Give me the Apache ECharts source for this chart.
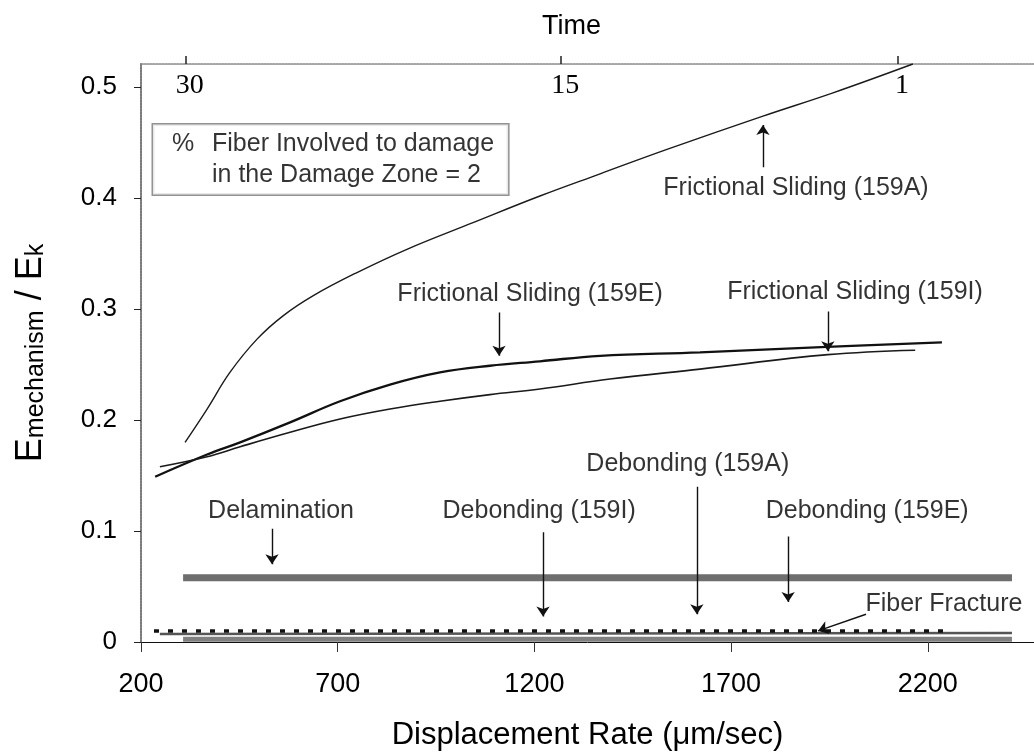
<!DOCTYPE html>
<html><head><meta charset="utf-8">
<script src="https://cdn.jsdelivr.net/npm/echarts@6/dist/echarts.min.js"></script>
<style>html,body{margin:0;padding:0;background:#fff}#c{width:1034px;height:756px}</style>
</head><body><div id="c"></div>
<script>
// ---- axis ticks ----
const xTicks = [200, 700, 1200, 1700, 2200];
const yTicks = [0, 0.1, 0.2, 0.3, 0.4, 0.5];
const timeTickRates = [314, 1268, 2124];
const timeTickLabels = ['30', '15', '1'];

// ---- frictional sliding curves ----
const rate159A = [312, 368, 426, 495, 561, 637, 749, 876, 1044, 1214, 1367, 1537, 1781, 1959, 2162];
const fs159A   = [0.180, 0.210, 0.243, 0.273, 0.294, 0.312, 0.333, 0.354, 0.378, 0.402, 0.422, 0.444, 0.474, 0.495, 0.521];
const rate159E = [236, 368, 452, 579, 706, 833, 960, 1087, 1214, 1367, 1621, 1944, 2236];
const fs159E   = [0.149, 0.169, 0.180, 0.198, 0.217, 0.232, 0.243, 0.249, 0.253, 0.258, 0.261, 0.266, 0.270];
const rate159I = [248, 368, 452, 579, 706, 833, 960, 1087, 1214, 1392, 1621, 1946, 2168];
const fs159I   = [0.158, 0.167, 0.176, 0.189, 0.201, 0.210, 0.217, 0.223, 0.228, 0.237, 0.246, 0.259, 0.263];

// ---- flat mechanisms ----
const rateDelam = [307, 2414];
const delam     = [0.058, 0.058];
const rateDeb159A = [233, 2241];
const deb159A     = [0.010, 0.010];
const rateDeb159E = [248, 2414];
const deb159E     = [0.0072, 0.0080];
const rateFiber = [307, 2414];
const fiber     = [0.0024, 0.0024];

// ---- annotations ----
const noteTexts  = ['Frictional Sliding (159A)', 'Frictional Sliding (159E)', 'Frictional Sliding (159I)',
                    'Delamination', 'Debonding (159I)', 'Debonding (159A)', 'Debonding (159E)', 'Fiber Fracture'];
const noteRates  = [1865, 1189, 2015, 556, 1212, 1590, 2046, 2241];
const noteValues = [0.409, 0.3135, 0.315, 0.118, 0.118, 0.160, 0.118, 0.034];
const arrowFrom  = [[1781, 0.428], [1110, 0.297], [1946, 0.298], [533, 0.102], [1222, 0.099], [1613, 0.140], [1845, 0.095], [2043, 0.025]];
const arrowTo    = [[1781, 0.466], [1110, 0.258], [1946, 0.262], [533, 0.070], [1222, 0.023], [1613, 0.025], [1845, 0.036], [1921, 0.010]];
const boxAnchor  = [230.5, 0.435];

const SANS = "'Liberation Sans', Arial, Helvetica, sans-serif";
const SERIF = "'Liberation Serif', 'Times New Roman', serif";
const zip = (xs, ys) => xs.map((x, i) => [x, ys[i]]);

const chart = echarts.init(document.getElementById('c'));
chart.setOption({
  animation: false,
  backgroundColor: '#fff',
  grid: { left: 141, right: 0, top: 64, bottom: 113 },
  xAxis: [{
    type: 'value', position: 'bottom', min: 200, max: 2470,
    name: 'Displacement Rate (\u03bcm/sec)', nameLocation: 'middle', nameGap: 78, nameMoveOverlap: false,
    nameTextStyle: { fontFamily: SANS, fontSize: 31, color: '#000' },
    axisLine: { show: true, onZero: false, lineStyle: { color: '#111', width: 1 } },
    axisTick: { show: true, customValues: xTicks, length: 10, lineStyle: { color: '#333', width: 1 } },
    axisLabel: { customValues: xTicks, margin: 29, fontFamily: SANS, fontSize: 27, color: '#000',
      formatter: v => String(v) },
    splitLine: { show: false }
  }, {
    type: 'value', position: 'top', min: 200, max: 2470,
    name: 'Time', nameLocation: 'middle', nameGap: 24, nameMoveOverlap: false,
    nameTextStyle: { fontFamily: SANS, fontSize: 27, color: '#000', padding: [0, 32, 0, 0] },
    axisLine: { show: true, onZero: false, lineStyle: { color: '#8a8a8a', width: 1.5, type: [2, 1] } },
    axisTick: { show: true, inside: false, customValues: timeTickRates, length: 8, lineStyle: { color: '#222', width: 1.5 } },
    axisLabel: { inside: true, customValues: timeTickRates, margin: 8, fontFamily: SERIF, fontSize: 28, color: '#000',
      padding: [0, 0, 0, 8],
      formatter: v => { const i = timeTickRates.indexOf(v); return i >= 0 ? timeTickLabels[i] : ''; } },
    splitLine: { show: false }
  }],
  yAxis: {
    type: 'value', min: 0, max: 0.521, interval: 0.1,
    name: '{e|E}{s|mechanism}{e| / E}{s|k}', nameLocation: 'middle', nameGap: 92, nameRotate: 90, nameMoveOverlap: false,
    nameTextStyle: { rich: {
      e: { fontFamily: SANS, fontSize: 36, lineHeight: 44, verticalAlign: 'bottom', color: '#000' },
      s: { fontFamily: SANS, fontSize: 25, lineHeight: 22, verticalAlign: 'bottom', color: '#000' }
    } },
    axisLine: { show: true, onZero: false, lineStyle: { color: '#7a7a7a', width: 2, type: [2, 1] } },
    axisTick: { show: true, customValues: yTicks, length: 7, lineStyle: { color: '#222', width: 1 } },
    axisLabel: { customValues: yTicks, margin: 24, fontFamily: SANS, fontSize: 26, color: '#000' },
    splitLine: { show: false }
  },
  series: [
    { type: 'line', name: 'Frictional Sliding (159A)', data: zip(rate159A, fs159A), smooth: 0.4, showSymbol: false, clip: false,
      lineStyle: { color: '#1a1a1a', width: 1.4 } },
    { type: 'line', name: 'Frictional Sliding (159E)', data: zip(rate159E, fs159E), smooth: 0.4, showSymbol: false,
      lineStyle: { color: '#111', width: 2.3 } },
    { type: 'line', name: 'Frictional Sliding (159I)', data: zip(rate159I, fs159I), smooth: 0.4, showSymbol: false,
      lineStyle: { color: '#1a1a1a', width: 1.6 } },
    { type: 'line', name: 'Delamination', data: zip(rateDelam, delam), showSymbol: false,
      lineStyle: { color: '#6e6e6e', width: 7 } },
    { type: 'line', name: 'Fiber Fracture', data: zip(rateFiber, fiber), showSymbol: false, clip: false,
      lineStyle: { color: '#808080', width: 5 } },
    { type: 'line', name: 'Debonding (159E)', data: zip(rateDeb159E, deb159E), showSymbol: false,
      lineStyle: { color: '#555', width: 2.5 } },
    { type: 'line', name: 'Debonding (159A)', data: zip(rateDeb159A, deb159A), showSymbol: false,
      lineStyle: { color: '#111', width: 3.5, type: [5, 9] } },
    { type: 'lines', coordinateSystem: 'cartesian2d', silent: true, z: 4,
      symbol: ['none', 'arrow'], symbolSize: 10,
      lineStyle: { color: '#111', width: 1.4, opacity: 1 },
      data: arrowFrom.map((f, i) => ({ coords: [f, arrowTo[i]] })) },
    { type: 'scatter', silent: true, symbolSize: 0, z: 5,
      data: noteTexts.map((t, i) => ({ name: t, value: [noteRates[i], noteValues[i]] })),
      label: { show: true, position: 'inside', formatter: '{b}', fontFamily: SANS, fontSize: 25, color: '#000' } },
    { type: 'scatter', silent: true, symbolSize: 0, z: 5,
      data: [{ name: 'box', value: boxAnchor }],
      label: { show: true, position: 'right', distance: 0,
        formatter: '{p|%}{t|Fiber Involved to damage}\n{p| }{t|in the Damage Zone = 2}',
        padding: [4, 14, 4, 19], borderColor: '#777', borderWidth: 1.5, backgroundColor: '#fff',
        rich: {
          p: { width: 40, fontFamily: SANS, fontSize: 25, lineHeight: 31, color: '#000' },
          t: { fontFamily: SANS, fontSize: 25, lineHeight: 31, color: '#000' }
        } } }
  ]
});
</script></body></html>
